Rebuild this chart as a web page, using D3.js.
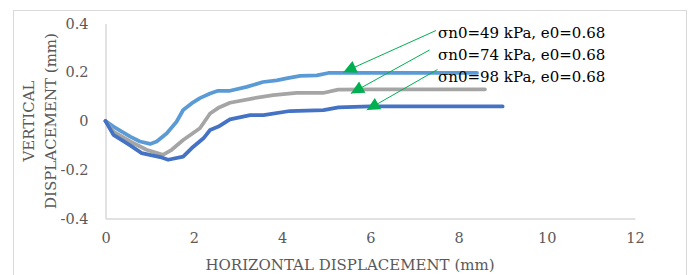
<!DOCTYPE html>
<html>
<head>
<meta charset="utf-8">
<script src="https://cdn.jsdelivr.net/npm/d3@7"></script>
<style>
  body { margin: 0; background: #fff; }
  text { font-family: 'DejaVu Serif', serif; }
</style>
</head>
<body>
<div class="chart"></div>
<script>
// values (mm)
const x49 = [0, 0.18, 0.56, 0.78, 1.01, 1.16, 1.39, 1.61, 1.76, 1.95, 2.14, 2.37, 2.55, 2.82, 3.2, 3.57, 3.88, 4.1, 4.41, 4.79, 5.05, 5.32, 6, 7, 8.42]
const y49 = [0, -0.023, -0.064, -0.084, -0.094, -0.084, -0.05, -0.003, 0.045, 0.072, 0.094, 0.113, 0.124, 0.124, 0.14, 0.16, 0.167, 0.175, 0.185, 0.187, 0.197, 0.197, 0.197, 0.197, 0.197]

const x74 = [0, 0.18, 0.56, 0.93, 1.3, 1.5, 1.76, 2.14, 2.37, 2.55, 2.82, 3.35, 3.8, 4.33, 4.93, 5.27, 6, 7, 8.6]
const y74 = [0, -0.044, -0.084, -0.118, -0.139, -0.118, -0.078, -0.03, 0.031, 0.053, 0.075, 0.093, 0.106, 0.115, 0.115, 0.129, 0.13, 0.13, 0.13]

const x98 = [0, 0.18, 0.56, 0.82, 1.24, 1.42, 1.76, 1.95, 2.22, 2.37, 2.56, 2.82, 3.28, 3.58, 4.18, 4.94, 5.28, 6, 7, 9.0]
const y98 = [0, -0.057, -0.10, -0.132, -0.148, -0.159, -0.146, -0.112, -0.071, -0.037, -0.023, 0.007, 0.024, 0.024, 0.041, 0.045, 0.056, 0.06, 0.06, 0.06]

const labels = ['σn0=49 kPa, e0=0.68', 'σn0=74 kPa, e0=0.68', 'σn0=98 kPa, e0=0.68']
// where each green arrow points (data coords)
const arrowX = [5.39, 5.56, 5.92]
const arrowY = [0.2, 0.113, 0.045]

const xTicks = [0, 2, 4, 6, 8, 10, 12]
const yTicks = [-0.4, -0.2, 0, 0.2, 0.4]

const series = [
  { xs: x49, ys: y49, color: '#5b9bd5' },
  { xs: x74, ys: y74, color: '#a5a5a5' },
  { xs: x98, ys: y98, color: '#4472c4' }
]

function drawChart (container) {
  const fullWidth = 693
  const fullHeight = 275
  const plot = { left: 105.5, right: 635, top: 23.5, bottom: 218.5 }

  const xScale = d3.scaleLinear().domain([0, 12]).range([plot.left, plot.right])
  const yScale = d3.scaleLinear().domain([-0.4, 0.4]).range([plot.bottom, plot.top])

  const svg = d3.select(container)
    .append('svg')
      .attr('width', fullWidth)
      .attr('height', fullHeight)

  // chart border
  svg.append('rect')
    .attr('x', 13.5).attr('y', 10.5)
    .attr('width', 673).attr('height', 280)
    .attr('fill', 'none')
    .attr('stroke', '#d9d9d9')

  // axes (no tick marks, light lines)
  const xAxis = d3.axisBottom(xScale).tickValues(xTicks).tickSize(0).tickPadding(14)
  const yAxis = d3.axisLeft(yScale).tickValues(yTicks).tickSize(0).tickPadding(17)
    .tickFormat(d => d === 0 ? '0' : d3.format('.1f')(d).replace('\u2212', '-'))

  const gx = svg.append('g')
    .attr('transform', `translate(0, ${plot.bottom})`)
    .call(xAxis)
  const gy = svg.append('g')
    .attr('transform', `translate(${plot.left}, 0)`)
    .call(yAxis)

  ;[gx, gy].forEach(g => {
    g.select('.domain').attr('stroke', '#d9d9d9').attr('stroke-width', 1.5)
    g.selectAll('text')
      .attr('fill', '#595959')
      .style('font-size', '14.5px')
      .style('font-family', "'DejaVu Serif', serif")
  })

  // lines
  const line = d3.line()
    .x(d => xScale(d[0]))
    .y(d => yScale(d[1]))

  svg.selectAll('path.series')
    .data(series)
    .enter()
      .append('path')
      .attr('class', 'series')
      .attr('d', s => line(s.xs.map((x, i) => [x, s.ys[i]])))
      .attr('fill', 'none')
      .attr('stroke', s => s.color)
      .attr('stroke-width', 3.75)
      .attr('stroke-linejoin', 'round')
      .attr('stroke-linecap', 'round')

  // axis titles
  svg.append('text')
    .attr('x', 350).attr('y', 270)
    .attr('text-anchor', 'middle')
    .attr('fill', '#595959')
    .style('font-size', '15px')
    .text('HORIZONTAL DISPLACEMENT (mm)')

  const yt = svg.append('text')
    .attr('transform', 'translate(0, 121) rotate(-90)')
    .attr('text-anchor', 'middle')
    .attr('fill', '#595959')
    .style('font-size', '15px')
  yt.append('tspan').attr('x', 0).attr('y', 34).text('VERTICAL')
  yt.append('tspan').attr('x', 0).attr('y', 56).text('DISPLACEMENT (mm)')

  // annotations
  svg.append('defs').append('marker')
    .attr('id', 'tri')
    .attr('viewBox', '0 0 10 10')
    .attr('refX', 10).attr('refY', 5)
    .attr('markerWidth', 15).attr('markerHeight', 13)
    .attr('markerUnits', 'userSpaceOnUse')
    .attr('orient', 'auto')
    .append('path')
      .attr('d', 'M0,0 L10,5 L0,10 Z')
      .attr('fill', '#00b050')

  const starts = [[436, 30.5], [429.5, 50], [437.5, 69.5]]

  labels.forEach((t, i) => {
    svg.append('line')
      .attr('x1', starts[i][0]).attr('y1', starts[i][1])
      .attr('x2', xScale(arrowX[i])).attr('y2', yScale(arrowY[i]))
      .attr('stroke', '#00b050')
      .attr('stroke-width', 1)
      .attr('marker-end', 'url(#tri)')

    svg.append('text')
      .attr('x', 438).attr('y', 37.5 + i * 22)
      .attr('fill', '#000')
      .style('font-size', '15px')
      .text(t)
  })

  return svg
}

drawChart('.chart')
</script>
</body>
</html>
